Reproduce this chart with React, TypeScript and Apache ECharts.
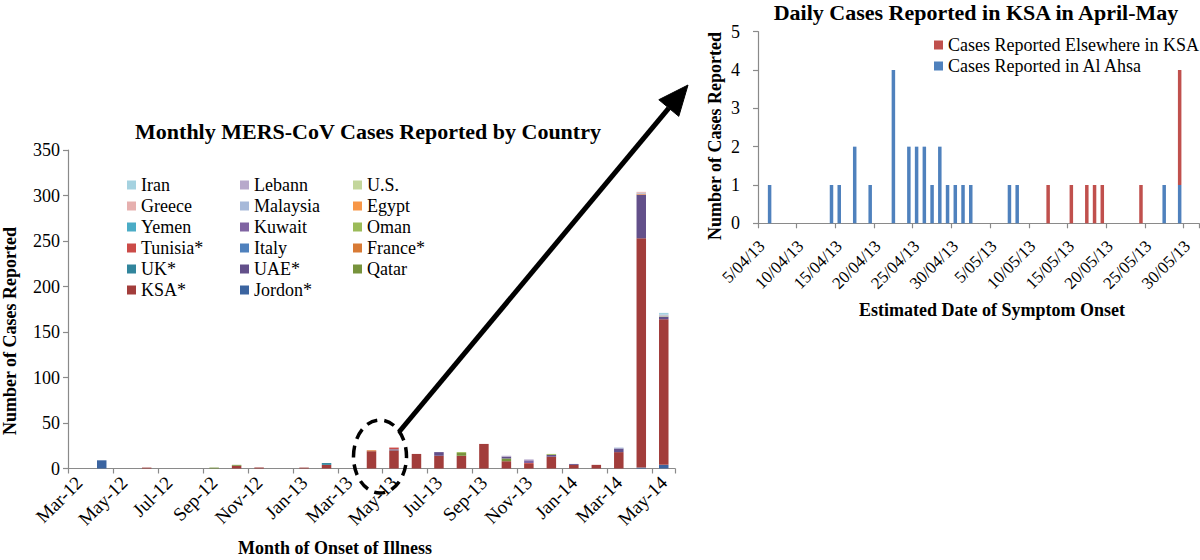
import React, { useEffect, useRef } from "react";
import * as echarts from "echarts";

const FONT = "Liberation Serif";
const AXIS_COLOR = "#8a8a8a";

// ---------- Left chart: monthly cases by country ----------
const MONTHS = [
  "Mar-12", "Apr-12", "May-12", "Jun-12", "Jul-12", "Aug-12", "Sep-12", "Oct-12", "Nov-12",
  "Dec-12", "Jan-13", "Feb-13", "Mar-13", "Apr-13", "May-13", "Jun-13", "Jul-13", "Aug-13",
  "Sep-13", "Oct-13", "Nov-13", "Dec-13", "Jan-14", "Feb-14", "Mar-14", "Apr-14", "May-14",
];
const MONTHLY_Y_TICKS = [0, 50, 100, 150, 200, 250, 300, 350];

//                   M  A  M  J  J  A  S  O  N  D  J  F  M  A   M   J   J   A   S   O  N  D   J  F  M   A    M
const jordan =      [0, 9, 0, 0, 0, 0, 0, 0, 0, 0, 0, 0, 0, 0,  0,  0,  0,  0,  0,  0, 0, 0,  0, 0, 0,  1,   4];
const ksa =         [0, 0, 0, 1, 0, 0, 0, 3, 1, 0, 1, 4, 0, 19, 20, 16, 14, 14, 27, 8, 5, 13, 4, 4, 18, 252, 160];
const qatar =       [0, 0, 0, 0, 0, 0, 1, 1, 0, 0, 0, 0, 0, 0,  0,  0,  0,  3,  0,  3, 0, 0,  0, 0, 0,  0,   0];
const uae =         [0, 0, 0, 0, 0, 0, 0, 0, 0, 0, 0, 0, 0, 0,  0,  0,  4,  0,  0,  2, 0, 2,  1, 0, 4,  48,  3];
const uk =          [0, 0, 0, 0, 0, 0, 0, 0, 0, 0, 0, 2, 0, 0,  0,  0,  0,  0,  0,  0, 0, 0,  0, 0, 0,  0,   0];
const france =      [0, 0, 0, 0, 0, 0, 0, 0, 0, 0, 0, 0, 0, 1,  0,  0,  0,  0,  0,  0, 0, 0,  0, 0, 0,  0,   0];
const italy =       [0, 0, 0, 0, 0, 0, 0, 0, 0, 0, 0, 0, 0, 0,  1,  0,  0,  0,  0,  0, 0, 0,  0, 0, 0,  0,   0];
const tunisia =     [0, 0, 0, 0, 0, 0, 0, 0, 0, 0, 0, 0, 0, 0,  2,  0,  0,  0,  0,  0, 1, 0,  0, 0, 0,  0,   0];
const oman =        [0, 0, 0, 0, 0, 0, 0, 0, 0, 0, 0, 0, 0, 0,  0,  0,  0,  1,  0,  0, 0, 1,  0, 0, 0,  0,   0];
const kuwait =      [0, 0, 0, 0, 0, 0, 0, 0, 0, 0, 0, 0, 0, 0,  0,  0,  0,  0,  0,  0, 3, 0,  0, 0, 0,  0,   0];
const yemen =       [0, 0, 0, 0, 0, 0, 0, 0, 0, 0, 0, 0, 0, 0,  0,  0,  0,  0,  0,  0, 0, 0,  0, 0, 0,  0,   0];
const egypt =       [0, 0, 0, 0, 0, 0, 0, 0, 0, 0, 0, 0, 0, 0,  0,  0,  0,  0,  0,  0, 0, 0,  0, 0, 0,  1,   0];
const malaysia =    [0, 0, 0, 0, 0, 0, 0, 0, 0, 0, 0, 0, 0, 0,  0,  0,  0,  0,  0,  0, 0, 0,  0, 0, 1,  1,   0];
const greece =      [0, 0, 0, 0, 0, 0, 0, 0, 0, 0, 0, 0, 0, 0,  0,  0,  0,  0,  0,  0, 0, 0,  0, 0, 0,  1,   0];
const us =          [0, 0, 0, 0, 0, 0, 0, 0, 0, 0, 0, 0, 0, 0,  0,  0,  0,  0,  0,  0, 0, 0,  0, 0, 0,  0,   1];
const lebann =      [0, 0, 0, 0, 0, 0, 0, 0, 0, 0, 0, 0, 0, 0,  0,  0,  0,  0,  0,  1, 1, 0,  0, 0, 0,  0,   1];
const iran =        [0, 0, 0, 0, 0, 0, 0, 0, 0, 0, 0, 0, 0, 0,  0,  0,  0,  0,  0,  0, 0, 0,  0, 0, 0,  0,   2];

// stacking order, bottom -> top
const COUNTRY_SERIES: { name: string; data: number[]; color: string }[] = [
  { name: "Jordon*", data: jordan, color: "#3B64A0" },
  { name: "KSA*", data: ksa, color: "#A23D3B" },
  { name: "Qatar", data: qatar, color: "#77933C" },
  { name: "UAE*", data: uae, color: "#63508A" },
  { name: "UK*", data: uk, color: "#31859C" },
  { name: "France*", data: france, color: "#D87A35" },
  { name: "Italy", data: italy, color: "#4F81BD" },
  { name: "Tunisia*", data: tunisia, color: "#CB4B48" },
  { name: "Oman", data: oman, color: "#9BBB59" },
  { name: "Kuwait", data: kuwait, color: "#8064A2" },
  { name: "Yemen", data: yemen, color: "#4BACC6" },
  { name: "Egypt", data: egypt, color: "#F79646" },
  { name: "Malaysia", data: malaysia, color: "#A7B9D9" },
  { name: "Greece", data: greece, color: "#E6B0AF" },
  { name: "U.S.", data: us, color: "#C3D69B" },
  { name: "Lebann", data: lebann, color: "#B7A8CB" },
  { name: "Iran", data: iran, color: "#A5D2E0" },
];

const LEGEND_COL_1 = ["Iran", "Greece", "Yemen", "Tunisia*", "UK*", "KSA*"];
const LEGEND_COL_2 = ["Lebann", "Malaysia", "Kuwait", "Italy", "UAE*", "Jordon*"];
const LEGEND_COL_3 = ["U.S.", "Egypt", "Oman", "France*", "Qatar"];

// ---------- Right chart: daily cases in KSA, April-May 2013 ----------
const DAYS = [
  "5/04/13", "6/04/13", "7/04/13", "8/04/13", "9/04/13", "10/04/13", "11/04/13", "12/04/13",
  "13/04/13", "14/04/13", "15/04/13", "16/04/13", "17/04/13", "18/04/13", "19/04/13", "20/04/13",
  "21/04/13", "22/04/13", "23/04/13", "24/04/13", "25/04/13", "26/04/13", "27/04/13", "28/04/13",
  "29/04/13", "30/04/13", "1/05/13", "2/05/13", "3/05/13", "4/05/13", "5/05/13", "6/05/13",
  "7/05/13", "8/05/13", "9/05/13", "10/05/13", "11/05/13", "12/05/13", "13/05/13", "14/05/13",
  "15/05/13", "16/05/13", "17/05/13", "18/05/13", "19/05/13", "20/05/13", "21/05/13", "22/05/13",
  "23/05/13", "24/05/13", "25/05/13", "26/05/13", "27/05/13", "28/05/13", "29/05/13", "30/05/13",
  "31/05/13",
];
const alAhsaDates = [
  "6/04/13", "14/04/13", "15/04/13", "17/04/13", "19/04/13", "22/04/13", "24/04/13", "25/04/13",
  "26/04/13", "27/04/13", "28/04/13", "29/04/13", "30/04/13", "1/05/13", "2/05/13", "7/05/13",
  "8/05/13", "27/05/13", "29/05/13",
];
const alAhsaCounts = [1, 1, 1, 2, 1, 4, 2, 2, 2, 1, 2, 1, 1, 1, 1, 1, 1, 1, 1];
const elsewhereDates = ["12/05/13", "15/05/13", "17/05/13", "18/05/13", "19/05/13", "24/05/13", "29/05/13"];
const elsewhereCounts = [1, 1, 1, 1, 1, 1, 3];
const DAILY_Y_TICKS = [0, 1, 2, 3, 4, 5];

function toDaily(dates: string[], counts: number[]): number[] {
  return DAYS.map((d) => {
    const i = dates.indexOf(d);
    return i >= 0 ? counts[i] : 0;
  });
}

function legendCol(data: string[], left: number) {
  return {
    data,
    orient: "vertical",
    left,
    top: 176,
    padding: 0,
    itemGap: 3,
    itemWidth: 9,
    itemHeight: 9,
    icon: "rect",
    selectedMode: false,
    textStyle: { fontFamily: FONT, color: "#000", fontSize: 18 },
  };
}

function label(text: string, x: number, y: number, size: number, bold: boolean, rotation = 0) {
  return {
    type: "text",
    x,
    y,
    rotation,
    z: 120,
    style: {
      text,
      fontFamily: FONT,
      fontSize: size,
      fontWeight: bold ? "bold" : "normal",
      fill: "#000",
      align: "center",
      verticalAlign: "middle",
      textAlign: "center",
      textVerticalAlign: "middle",
    },
  };
}

// arrow geometry
const ARROW_START = [399, 432];
const ARROW_TIP = [688, 85];
function arrowHead() {
  const dx = ARROW_TIP[0] - ARROW_START[0];
  const dy = ARROW_TIP[1] - ARROW_START[1];
  const len = Math.sqrt(dx * dx + dy * dy);
  const ux = dx / len;
  const uy = dy / len;
  const hl = 30;
  const hw = 13;
  const bx = ARROW_TIP[0] - ux * hl;
  const by = ARROW_TIP[1] - uy * hl;
  const px = -uy;
  const py = ux;
  return {
    base: [bx, by],
    points: [
      [ARROW_TIP[0], ARROW_TIP[1]],
      [bx + px * hw, by + py * hw],
      [bx - px * hw, by - py * hw],
    ],
  };
}

function buildOption() {
  const head = arrowHead();
  const axisLine = { show: true, lineStyle: { color: AXIS_COLOR, width: 1.2 } };
  const axisTick = { show: true, length: 5, lineStyle: { color: AXIS_COLOR, width: 1.2 } };

  return {
    animation: false,
    backgroundColor: "#ffffff",
    textStyle: { fontFamily: FONT, color: "#000" },
    legend: [
      legendCol(LEGEND_COL_1, 127),
      legendCol(LEGEND_COL_2, 240),
      legendCol(LEGEND_COL_3, 353),
      {
        data: ["Cases Reported Elsewhere in KSA", "Cases Reported in Al Ahsa"],
        orient: "vertical",
        left: 934,
        top: 36,
        padding: 0,
        itemGap: 3,
        itemWidth: 9,
        itemHeight: 9,
        icon: "rect",
        selectedMode: false,
        textStyle: { fontFamily: FONT, color: "#000", fontSize: 18 },
      },
    ],
    grid: [
      { left: 68, top: 150, width: 607, height: 318.5 },
      { left: 758, top: 31.7, width: 441, height: 191.6 },
    ],
    xAxis: [
      {
        type: "category",
        gridIndex: 0,
        data: MONTHS,
        axisLine,
        axisTick: { ...axisTick, interval: 1 },
        axisLabel: { fontFamily: FONT, color: "#000", fontSize: 19, rotate: 45, interval: 1, margin: 11 },
      },
      {
        type: "category",
        gridIndex: 1,
        data: DAYS,
        axisLine,
        axisTick: { ...axisTick, interval: 4 },
        axisLabel: { fontFamily: FONT, color: "#000", fontSize: 17, rotate: 45, interval: 4, margin: 20 },
      },
    ],
    yAxis: [
      {
        type: "value",
        gridIndex: 0,
        min: MONTHLY_Y_TICKS[0],
        max: MONTHLY_Y_TICKS[MONTHLY_Y_TICKS.length - 1],
        interval: MONTHLY_Y_TICKS[1] - MONTHLY_Y_TICKS[0],
        axisLine,
        axisTick,
        splitLine: { show: false },
        axisLabel: { fontFamily: FONT, color: "#000", fontSize: 18, margin: 8 },
      },
      {
        type: "value",
        gridIndex: 1,
        min: DAILY_Y_TICKS[0],
        max: DAILY_Y_TICKS[DAILY_Y_TICKS.length - 1],
        interval: DAILY_Y_TICKS[1] - DAILY_Y_TICKS[0],
        axisLine,
        axisTick,
        splitLine: { show: false },
        axisLabel: { fontFamily: FONT, color: "#000", fontSize: 18, margin: 18 },
      },
    ],
    series: [
      ...COUNTRY_SERIES.map((s) => ({
        name: s.name,
        type: "bar",
        stack: "monthly",
        xAxisIndex: 0,
        yAxisIndex: 0,
        barWidth: 9.5,
        data: s.data,
        itemStyle: { color: s.color },
      })),
      {
        name: "Cases Reported in Al Ahsa",
        type: "bar",
        stack: "daily",
        xAxisIndex: 1,
        yAxisIndex: 1,
        barWidth: 3.5,
        data: toDaily(alAhsaDates, alAhsaCounts),
        itemStyle: { color: "#4F81BD" },
      },
      {
        name: "Cases Reported Elsewhere in KSA",
        type: "bar",
        stack: "daily",
        xAxisIndex: 1,
        yAxisIndex: 1,
        barWidth: 3.5,
        data: toDaily(elsewhereDates, elsewhereCounts),
        itemStyle: { color: "#C0504D" },
      },
    ],
    graphic: [
      label("Monthly MERS-CoV Cases Reported by Country", 368, 131, 22, true),
      label("Daily Cases Reported in KSA in April-May", 976, 12, 22, true),
      label("Number of Cases Reported", 10, 331, 18, true, Math.PI / 2),
      label("Month of Onset of Illness", 335, 548, 18, true),
      label("Number of Cases Reported", 715, 136, 18, true, Math.PI / 2),
      label("Estimated Date of Symptom Onset", 992, 310, 18, true),
      {
        type: "ellipse",
        z: 110,
        shape: { cx: 380, cy: 456.5, rx: 26.5, ry: 36.5 },
        style: { fill: "transparent", stroke: "#000", lineWidth: 3.5, lineDash: [11, 7] },
      },
      {
        type: "line",
        z: 110,
        shape: { x1: ARROW_START[0], y1: ARROW_START[1], x2: head.base[0], y2: head.base[1] },
        style: { stroke: "#000", lineWidth: 5 },
      },
      {
        type: "polygon",
        z: 110,
        shape: { points: head.points },
        style: { fill: "#000", stroke: "#000", lineWidth: 1 },
      },
    ],
  };
}

export default function App() {
  const ref = useRef<HTMLDivElement>(null);
  useEffect(() => {
    if (!ref.current) return;
    const chart = echarts.init(ref.current, null, { renderer: "svg" });
    chart.setOption(buildOption() as any);
    return () => chart.dispose();
  }, []);
  return (
    <div
      ref={ref}
      style={{ position: "fixed", left: 0, top: 0, width: 1200, height: 560, background: "#fff" }}
    />
  );
}
